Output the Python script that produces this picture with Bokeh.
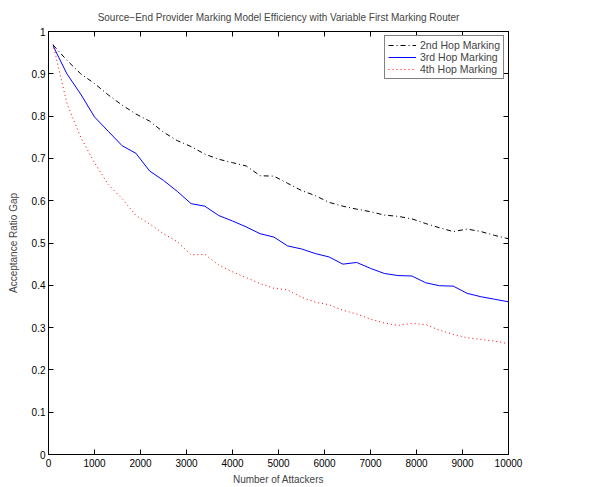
from bokeh.plotting import figure
from bokeh.models import LinearAxis, FixedTicker, CustomJSTickFormatter, Range1d
from bokeh.embed import file_html
from bokeh.resources import INLINE

attackers = [100, 400, 700, 1000, 1300, 1600, 1900, 2200, 2500, 2800, 3100, 3400,
             3700, 4000, 4300, 4600, 4900, 5200, 5500, 5800, 6100, 6400, 6700, 7000,
             7300, 7600, 7900, 8200, 8500, 8800, 9100, 9400, 9700, 10000]

hop2 = [0.968, 0.932, 0.900, 0.877, 0.850, 0.826, 0.805, 0.788, 0.762, 0.742, 0.728, 0.710,
        0.698, 0.690, 0.682, 0.659, 0.658, 0.641, 0.624, 0.612, 0.596, 0.587, 0.580, 0.574,
        0.566, 0.563, 0.557, 0.546, 0.536, 0.527, 0.533, 0.527, 0.518, 0.510]

hop3 = [0.966, 0.900, 0.852, 0.798, 0.764, 0.730, 0.712, 0.670, 0.648, 0.622, 0.593, 0.587,
        0.565, 0.552, 0.538, 0.522, 0.514, 0.493, 0.486, 0.475, 0.467, 0.450, 0.454, 0.440,
        0.428, 0.423, 0.422, 0.406, 0.399, 0.398, 0.381, 0.373, 0.367, 0.361]

hop4 = [0.970, 0.830, 0.750, 0.690, 0.638, 0.605, 0.565, 0.545, 0.522, 0.503, 0.472, 0.473,
        0.448, 0.432, 0.418, 0.404, 0.393, 0.389, 0.372, 0.360, 0.354, 0.341, 0.332, 0.320,
        0.311, 0.305, 0.310, 0.307, 0.294, 0.284, 0.276, 0.272, 0.268, 0.262]

x_ticks = [0, 1000, 2000, 3000, 4000, 5000, 6000, 7000, 8000, 9000, 10000]
y_ticks = [0, 0.1, 0.2, 0.3, 0.4, 0.5, 0.6, 0.7, 0.8, 0.9, 1]

FONT = "Liberation Sans"

p = figure(width=607, height=487, output_backend="svg", toolbar_location=None,
           x_range=Range1d(0, 10000), y_range=Range1d(0, 1),
           min_border_left=48, min_border_right=99, min_border_top=4, min_border_bottom=30,
           title="Source\u2212End Provider Marking Model Efficiency with Variable First Marking Router")
p.title.text_font = FONT
p.title.text_font_size = "10px"
p.title.text_font_style = "normal"
p.title.align = "center"
p.title.standoff = 18

p.grid.visible = False
p.outline_line_color = "black"
p.outline_line_width = 1
p.background_fill_color = "white"
p.border_fill_color = "white"

p.xaxis.ticker = FixedTicker(ticks=x_ticks)
p.yaxis.ticker = FixedTicker(ticks=y_ticks)
p.yaxis.formatter = CustomJSTickFormatter(code="return String(Math.round(tick*10)/10)")
for ax in (p.xaxis[0], p.yaxis[0]):
    ax.major_tick_in = 5
    ax.major_tick_out = 0
    ax.minor_tick_line_color = None
    ax.axis_line_color = "black"
    ax.major_label_text_font = FONT
    ax.major_label_text_font_size = "10px"
    ax.major_label_text_color = "black"
    ax.axis_label_text_font = FONT
    ax.axis_label_text_font_size = "10px"
    ax.axis_label_text_font_style = "normal"
    ax.major_label_standoff = 3
p.xaxis.axis_label = "Number of Attackers"
p.yaxis.axis_label = "Acceptance Ratio Gap"
p.xaxis.major_label_standoff = 4
p.xaxis.axis_label_standoff = 4
p.yaxis.axis_label_standoff = 10

for loc, tk in (("right", y_ticks), ("above", x_ticks)):
    ax = LinearAxis(ticker=FixedTicker(ticks=tk),
                    formatter=CustomJSTickFormatter(code="return ''"),
                    major_tick_in=5, major_tick_out=0,
                    minor_tick_line_color=None, axis_line_color="black",
                    major_label_text_font_size="1px", major_label_standoff=0)
    p.add_layout(ax, loc)

p.line(attackers, hop2, line_color="black", line_width=1, line_dash="5 3 1 3",
       legend_label="2nd Hop Marking")
p.line(attackers, hop3, line_color="#0000ff", line_width=1,
       legend_label="3rd Hop Marking")
p.line(attackers, hop4, line_color="#ff0000", line_width=1, line_dash="1 3",
       legend_label="4th Hop Marking")

lg = p.legend[0]
lg.location = "top_right"
lg.margin = 4
lg.padding = 3
lg.spacing = 0
lg.border_line_color = "black"
lg.border_line_width = 1
lg.label_text_font = FONT
lg.label_text_font_size = "10.5px"
lg.label_height = 12
lg.glyph_height = 12
lg.glyph_width = 28
lg.label_standoff = 4
lg.background_fill_alpha = 1

open("out.html", "w").write(file_html(p, INLINE))
